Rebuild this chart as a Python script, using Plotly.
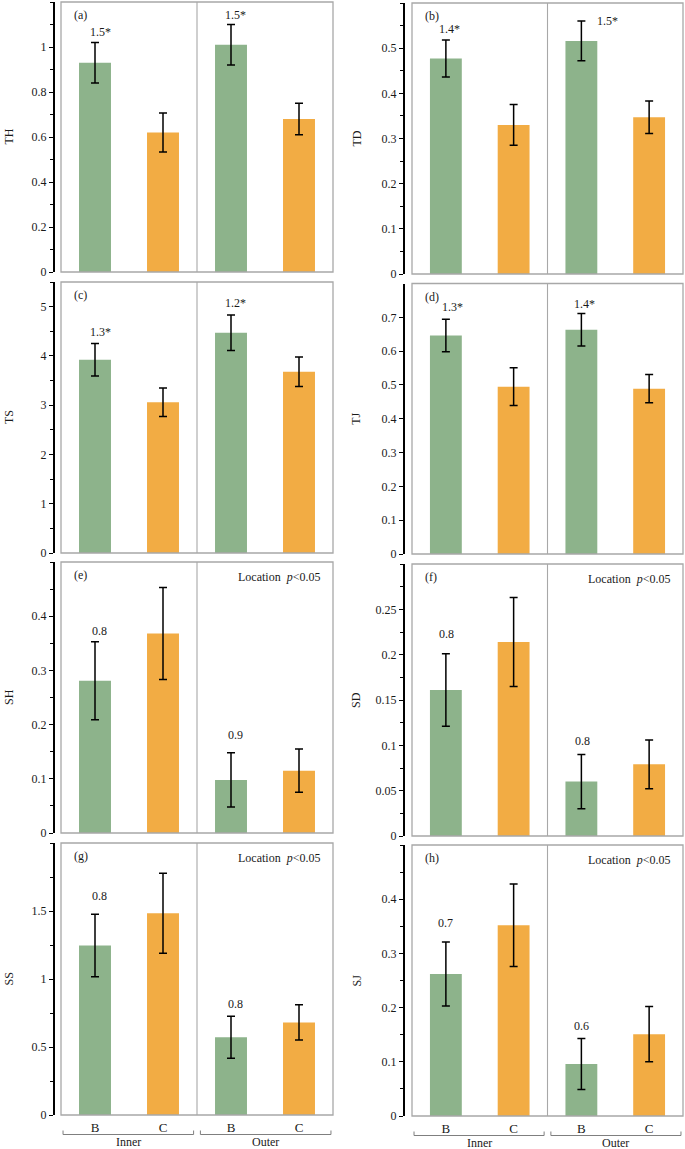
import plotly.graph_objects as go

# ---------------- data ----------------
categories = ["Inner-B", "Inner-C", "Outer-B", "Outer-C"]
tick_text = ["B", "C", "B", "C"]
groups = ["Inner", "Outer"]

TH_mean = [0.93, 0.62, 1.01, 0.68]
TH_err = [0.09, 0.087, 0.09, 0.07]
TD_mean = [0.477, 0.33, 0.516, 0.347]
TD_err = [0.041, 0.045, 0.044, 0.036]
TS_mean = [3.92, 3.06, 4.47, 3.68]
TS_err = [0.33, 0.29, 0.36, 0.30]
TJ_mean = [0.646, 0.495, 0.663, 0.489]
TJ_err = [0.048, 0.056, 0.048, 0.042]
SH_mean = [0.281, 0.368, 0.098, 0.115]
SH_err = [0.072, 0.085, 0.050, 0.040]
SD_mean = [0.161, 0.214, 0.060, 0.079]
SD_err = [0.040, 0.049, 0.030, 0.027]
SS_mean = [1.247, 1.483, 0.572, 0.681]
SS_err = [0.230, 0.294, 0.155, 0.130]
SJ_mean = [0.262, 0.352, 0.096, 0.151]
SJ_err = [0.059, 0.076, 0.047, 0.051]

TH_ratio = ["1.5*", "1.5*"]
TD_ratio = ["1.4*", "1.5*"]
TS_ratio = ["1.3*", "1.2*"]
TJ_ratio = ["1.3*", "1.4*"]
SH_ratio = ["0.8", "0.9"]
SD_ratio = ["0.8", "0.8"]
SS_ratio = ["0.8", "0.8"]
SJ_ratio = ["0.7", "0.6"]

panel_letters = ["(a)", "(b)", "(c)", "(d)", "(e)", "(f)", "(g)", "(h)"]
ylabels = ["TH", "TD", "TS", "TJ", "SH", "SD", "SS", "SJ"]
means = [TH_mean, TD_mean, TS_mean, TJ_mean, SH_mean, SD_mean, SS_mean, SJ_mean]
errs = [TH_err, TD_err, TS_err, TJ_err, SH_err, SD_err, SS_err, SJ_err]
ratios = [TH_ratio, TD_ratio, TS_ratio, TJ_ratio, SH_ratio, SD_ratio, SS_ratio, SJ_ratio]
location_note = [False, False, False, False, True, True, True, True]

# axis scales: (max, major step, minor step)
yscale = [(1.2, 0.2, 0.1), (0.6, 0.1, 0.05), (5.5, 1, 0.5), (0.8, 0.1, None),
          (0.5, 0.1, 0.05), (0.3, 0.05, 0.025), (2.0, 0.5, 0.25), (0.5, 0.1, 0.05)]

# ---------------- layout geometry (pixels) ----------------
W, H = 685, 1149
cols = [dict(axis=53, left=61, right=333, title=8.5),
        dict(axis=403, left=412, right=683, title=356)]
rows_px = [(2, 272), (3, 274), (282, 553), (283.5, 554),
           (562, 833), (564, 836), (843, 1115), (845, 1116)]
# label pixel shifts (y above cap, x)
label_shift = [[(11, 5), (10, 4)], [(11, 4), (0, 26)], [(12, 5), (12, 4)], [(12, 7), (10, 3)],
               [(11, 4), (18, 4)], [(20, 1), (13, 1)], [(18, 4), (12, 4)], [(19, 0), (12, 0)]]

GREEN = "#8DB38B"
ORANGE = "#F2AC44"
BOX = "#A8A8A8"
FONT = "Liberation Serif"
TXT = "#1a1a1a"
colors = [GREEN, ORANGE, GREEN, ORANGE]


def px_x(p):
    return p / W


def px_y(p):
    return 1 - p / H


def fmt(v):
    return f"{round(v, 4):g}"


fig = go.Figure()
shapes = []
annotations = []
layout = {}

for i in range(8):
    n = i + 1
    col = cols[i % 2]
    top, bot = rows_px[i]
    xa = "x" if n == 1 else f"x{n}"
    ya = "y" if n == 1 else f"y{n}"
    ymax, major, minor = yscale[i]

    fig.add_trace(go.Bar(
        x=categories, y=means[i], xaxis=xa, yaxis=ya,
        marker=dict(color=colors, line=dict(width=0)), width=0.47,
        error_y=dict(type="data", array=errs[i], visible=True,
                     color="black", thickness=1.5, width=4),
        showlegend=False, hoverinfo="skip"))

    nmaj = int(round(ymax / major))
    tv = [k * major for k in range(nmaj)]
    minor_dict = dict(ticks="")
    if minor:
        nmin = int(round(ymax / minor))
        mv = [k * minor for k in range(nmin + 1)]
        minor_dict = dict(tickvals=mv, ticks="outside", ticklen=3,
                          tickcolor="black", tickwidth=1)

    bottom_row = i >= 6
    layout["xaxis" if n == 1 else f"xaxis{n}"] = dict(
        domain=[px_x(col["left"]), px_x(col["right"])],
        anchor=ya, type="category", categoryorder="array", categoryarray=categories,
        range=[-0.5, 3.5], showline=False, showgrid=False, zeroline=False,
        ticks="", showticklabels=bottom_row,
        tickmode="array", tickvals=categories, ticktext=tick_text,
        tickfont=dict(family=FONT, size=13, color=TXT),
        ticklabelstandoff=3, automargin=False, fixedrange=True)
    layout["yaxis" if n == 1 else f"yaxis{n}"] = dict(
        domain=[px_y(bot), px_y(top)], anchor="free", position=px_x(col["axis"]),
        range=[0, ymax], showline=True, linecolor="black", linewidth=1.6,
        ticks="outside", ticklen=4, tickcolor="black", tickwidth=1,
        tickmode="array", tickvals=tv, ticktext=[fmt(v) for v in tv],
        minor=minor_dict, showgrid=False, zeroline=False,
        tickfont=dict(family=FONT, size=12, color=TXT),
        automargin=False, fixedrange=True)

    # plot box and divider
    shapes.append(dict(type="rect", xref=f"{xa} domain", yref=f"{ya} domain",
                       x0=0, x1=1, y0=0, y1=1, line=dict(color=BOX, width=1.3), layer="above"))
    shapes.append(dict(type="line", xref=xa, yref=f"{ya} domain", x0=1.5, x1=1.5,
                       y0=0, y1=1, line=dict(color=BOX, width=1.1), layer="above"))

    # panel letter
    annotations.append(dict(text=panel_letters[i], xref="paper", yref="paper",
                            x=px_x(col["left"] + 11), y=px_y(top + 13),
                            xanchor="left", yanchor="middle", showarrow=False,
                            font=dict(family=FONT, size=12, color=TXT)))
    # y title
    annotations.append(dict(text=ylabels[i], xref="paper", yref="paper",
                            x=px_x(col["title"]), y=px_y((top + bot) / 2),
                            xanchor="center", yanchor="middle", showarrow=False,
                            textangle=-90, font=dict(family=FONT, size=12, color=TXT)))
    # ratio labels above the B bars
    for j, k in enumerate([0, 2]):
        dy, dx = label_shift[i][j]
        annotations.append(dict(text=ratios[i][j], xref=xa, yref=ya,
                                x=categories[k], y=means[i][k] + errs[i][k],
                                yshift=dy, xshift=dx, xanchor="center", yanchor="middle",
                                showarrow=False, font=dict(family=FONT, size=12, color=TXT)))
    if location_note[i]:
        annotations.append(dict(text="Location&nbsp; <i>p</i>&lt;0.05", xref="paper", yref="paper",
                                x=px_x(col["right"] - 11), y=px_y(top + 14.5),
                                xanchor="right", yanchor="middle", showarrow=False,
                                font=dict(family=FONT, size=12, color=TXT)))

    # group brackets and group labels under the bottom row
    if bottom_row:
        yl = px_y(bot + 19.5)
        yt = px_y(bot + 15.5)
        for g, (a0, a1) in enumerate([(-0.47, 1.45), (1.55, 3.47)]):
            shapes.append(dict(type="path", xref=xa, yref="paper",
                               path=f"M {a0},{yt} L {a0},{yl} L {a1},{yl} L {a1},{yt}",
                               line=dict(color="#7f7f7f", width=1)))
            annotations.append(dict(text=groups[g], xref=xa, yref="paper",
                                    x=(a0 + a1) / 2, y=px_y(bot + 26.5),
                                    xanchor="center", yanchor="middle", showarrow=False,
                                    font=dict(family=FONT, size=12, color=TXT)))

fig.update_layout(**layout)
fig.update_layout(width=W, height=H, margin=dict(l=0, r=0, t=0, b=0),
                  plot_bgcolor="white", paper_bgcolor="white",
                  shapes=shapes, annotations=annotations, showlegend=False,
                  bargap=0.5)

fig.write_html("out.html", config={"displayModeBar": False, "staticPlot": True},
               post_script="document.body.style.margin='0';document.body.style.padding='0';"
                           "document.body.style.overflow='hidden';"
                           "document.documentElement.style.overflow='hidden';")
